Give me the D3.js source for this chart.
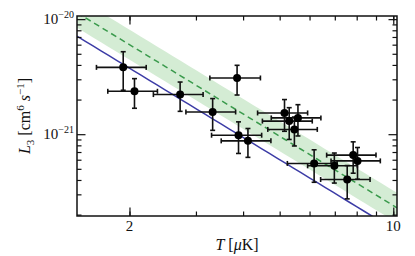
<!DOCTYPE html>
<html>
<head>
<meta charset="utf-8">
<script src="https://cdn.jsdelivr.net/npm/d3@7"></script>
<style>
  html, body { margin: 0; padding: 0; background: #fff; }
  svg { display: block; }
  text { font-family: "Liberation Serif", "DejaVu Serif", serif; fill: #111; }
</style>
</head>
<body>
<svg id="chart" width="415" height="256"></svg>
<script>
// ---- data ----
const temps    = [1.925, 2.062, 2.724, 3.856, 3.322, 3.89, 4.12, 5.15, 5.30, 5.59, 5.47, 6.17, 6.98, 7.55, 7.83, 8.04];
const tempErr  = [0.29, 0.31, 0.41, 0.59, 0.50, 0.59, 0.62, 0.78, 0.80, 0.84, 0.82, 0.93, 1.05, 1.13, 1.17, 1.20];
const l3       = [3.81e-21, 2.36e-21, 2.21e-21, 3.08e-21, 1.56e-21, 9.8e-22, 8.75e-22, 1.53e-21, 1.30e-21, 1.385e-21, 1.10e-21, 5.57e-22, 5.31e-22, 4.04e-22, 6.58e-22, 5.86e-22];
const l3Err    = [1.4e-21, 0.68e-21, 0.63e-21, 0.89e-21, 0.48e-21, 3.0e-22, 2.46e-22, 0.47e-21, 0.40e-21, 0.42e-21, 0.31e-21, 1.75e-22, 1.55e-22, 1.3e-22, 2.0e-22, 1.8e-22];

// model curves L3 = coef * T^exponent
const modelExponent = -2;
const blueCoef  = 1.5e-20;
const greenCoef = 2.4e-20;
const bandFactor = 1.35;

const xDomain = [1.452, 10.23];
const yDomain = [1.945e-22, 1.065e-20];
const xTickVals = [2, 3, 4, 5, 6, 7, 8, 9, 10];
const xTickLabels = {2: "2", 10: "10"};
const yMajor = [1e-21, 1e-20];
const yMajorLabels = ["−21", "−20"];
const yMinor = [2e-22,3e-22,4e-22,5e-22,6e-22,7e-22,8e-22,9e-22,2e-21,3e-21,4e-21,5e-21,6e-21,7e-21,8e-21,9e-21];

// ---- layout ----
const L = 77, R = 397, T = 16, B = 216;
const svg = d3.select("#chart");
const x = d3.scaleLog().domain(xDomain).range([L, R]);
const y = d3.scaleLog().domain(yDomain).range([B, T]);

svg.append("defs").append("clipPath").attr("id", "clip")
  .append("rect").attr("x", L).attr("y", T).attr("width", R - L).attr("height", B - T);

const plot = svg.append("g").attr("clip-path", "url(#clip)");
const model = (c, t) => c * Math.pow(t, modelExponent);
const tSamples = d3.range(0, 41).map(i => xDomain[0] * Math.pow(xDomain[1] / xDomain[0], i / 40));

// band
plot.append("path")
  .datum(tSamples)
  .attr("fill", "#d4ecd4")
  .attr("d", d3.area()
    .x(d => x(d))
    .y0(d => y(model(greenCoef, d) / bandFactor))
    .y1(d => y(model(greenCoef, d) * bandFactor)));

// blue line
plot.append("path")
  .datum(tSamples)
  .attr("fill", "none").attr("stroke", "#3c3ca6").attr("stroke-width", 1.5)
  .attr("d", d3.line().x(d => x(d)).y(d => y(model(blueCoef, d))));

// green dashed
plot.append("path")
  .datum(tSamples)
  .attr("fill", "none").attr("stroke", "#3a9a4c").attr("stroke-width", 1.5)
  .attr("stroke-dasharray", "6,4")
  .attr("d", d3.line().x(d => x(d)).y(d => y(model(greenCoef, d))));

// error bars + points
const pts = temps.map((t, i) => ({t, dt: tempErr[i], v: l3[i], dv: l3Err[i]}));
const eg = svg.append("g").attr("stroke", "#111").attr("stroke-width", 1.6);
const cap = 2.5;
pts.forEach(p => {
  const cx = x(p.t), cy = y(p.v);
  const xl = x(p.t - p.dt), xr = x(p.t + p.dt);
  const yt = y(p.v + p.dv), yb = y(p.v - p.dv);
  eg.append("line").attr("x1", xl).attr("x2", xr).attr("y1", cy).attr("y2", cy);
  eg.append("line").attr("x1", cx).attr("x2", cx).attr("y1", yt).attr("y2", yb);
  eg.append("line").attr("x1", xl).attr("x2", xl).attr("y1", cy - cap).attr("y2", cy + cap);
  eg.append("line").attr("x1", xr).attr("x2", xr).attr("y1", cy - cap).attr("y2", cy + cap);
  eg.append("line").attr("x1", cx - cap).attr("x2", cx + cap).attr("y1", yt).attr("y2", yt);
  eg.append("line").attr("x1", cx - cap).attr("x2", cx + cap).attr("y1", yb).attr("y2", yb);
});
svg.append("g").selectAll("circle").data(pts).join("circle")
  .attr("cx", d => x(d.t)).attr("cy", d => y(d.v)).attr("r", 4).attr("fill", "#000");

// ---- axes (ticks inward on all four sides) ----
const bottomAx = d3.axisBottom(x).tickValues(xTickVals).tickSizeInner(-4.5).tickSizeOuter(0).tickFormat("");
const topAx = d3.axisTop(x).tickValues(xTickVals).tickSizeInner(-4.5).tickSizeOuter(0).tickFormat("");
const leftMinor = d3.axisLeft(y).tickValues(yMinor).tickSizeInner(-4.5).tickSizeOuter(0).tickFormat("");
const rightMinor = d3.axisRight(y).tickValues(yMinor).tickSizeInner(-4.5).tickSizeOuter(0).tickFormat("");
const leftMajor = d3.axisLeft(y).tickValues(yMajor).tickSizeInner(-8.5).tickSizeOuter(0).tickFormat("");
const rightMajor = d3.axisRight(y).tickValues(yMajor).tickSizeInner(-8.5).tickSizeOuter(0).tickFormat("");
const bottomMajor = d3.axisBottom(x).tickValues([2, 10]).tickSizeInner(-8.5).tickSizeOuter(0).tickFormat("");
const topMajor = d3.axisTop(x).tickValues([2, 10]).tickSizeInner(-8.5).tickSizeOuter(0).tickFormat("");

const axG = svg.append("g");
[[bottomAx, `translate(0,${B})`], [bottomMajor, `translate(0,${B})`],
 [topAx, `translate(0,${T})`], [topMajor, `translate(0,${T})`],
 [leftMinor, `translate(${L},0)`], [leftMajor, `translate(${L},0)`],
 [rightMinor, `translate(${R},0)`], [rightMajor, `translate(${R},0)`]].forEach(([ax, tr]) => {
  const g = axG.append("g").attr("transform", tr).call(ax);
  g.select(".domain").remove();
  g.selectAll("line").attr("stroke", "#111").attr("stroke-width", 1.2);
});

// frame
svg.append("rect").attr("x", L).attr("y", T).attr("width", R - L).attr("height", B - T)
  .attr("fill", "none").attr("stroke", "#111").attr("stroke-width", 1.5);

// x tick labels
xTickVals.filter(v => xTickLabels[v]).forEach(v => {
  svg.append("text").attr("x", x(v)).attr("y", B + 15).attr("text-anchor", "middle")
    .attr("font-size", 15).text(xTickLabels[v]);
});

// y tick labels 10^exp
yMajor.forEach((v, i) => {
  const t = svg.append("text").attr("x", L - 3).attr("y", y(v) + 5).attr("text-anchor", "end").attr("font-size", 15);
  t.append("tspan").text("10");
  t.append("tspan").attr("dy", -6).attr("font-size", 10).text(yMajorLabels[i]);
});

// axis titles
const xt = svg.append("text").attr("x", (L + R) / 2).attr("y", 250).attr("text-anchor", "middle").attr("font-size", 16);
xt.append("tspan").attr("font-style", "italic").text("T");
xt.append("tspan").text(" [");
xt.append("tspan").attr("font-style", "italic").text("μ");
xt.append("tspan").text("K]");

const yt = svg.append("text").attr("transform", `translate(30,${(T + B) / 2}) rotate(-90)`)
  .attr("text-anchor", "middle").attr("font-size", 16);
yt.append("tspan").attr("font-style", "italic").text("L");
yt.append("tspan").attr("font-size", 11).attr("dy", 4).text("3");
yt.append("tspan").attr("dy", -4).text(" [cm");
yt.append("tspan").attr("font-size", 11).attr("dy", -6).text("6");
yt.append("tspan").attr("dy", 6).text(" ");
yt.append("tspan").attr("font-style", "italic").text("s");
yt.append("tspan").attr("font-size", 11).attr("dy", -6).text("−1");
yt.append("tspan").attr("dy", 6).text("]");
</script>
</body>
</html>
